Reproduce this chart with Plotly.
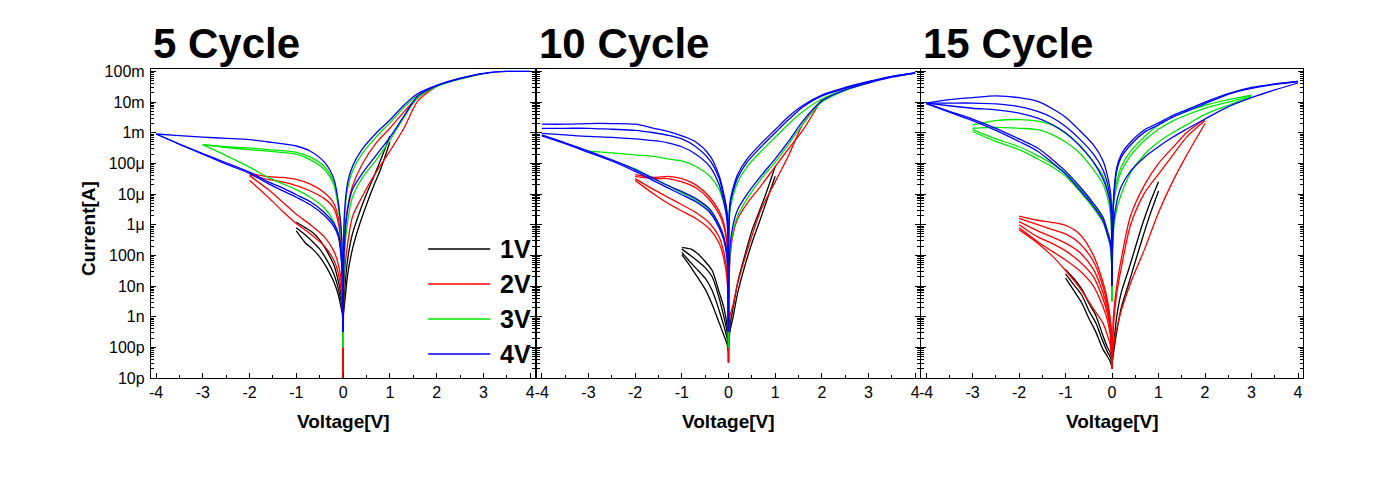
import plotly.graph_objects as go

# ---------------- voltage grids (V) ----------------
VP1 = [0, 0.03, 0.1, 0.2, 0.35, 0.5, 0.65, 0.8, 1.0]
VN1 = [0, -0.03, -0.1, -0.2, -0.35, -0.5, -0.65, -0.8, -1.0]
VP2 = [0, 0.03, 0.1, 0.2, 0.4, 0.7, 1.0, 1.3, 1.6, 2.0]
VN2 = [0, -0.03, -0.1, -0.2, -0.4, -0.7, -1.0, -1.3, -1.6, -2.0]
VP3 = [0, 0.03, 0.1, 0.2, 0.4, 0.7, 1.0, 1.3, 1.6, 2.0, 2.5, 3.0]
VN3 = [0, -0.03, -0.1, -0.2, -0.4, -0.7, -1.0, -1.3, -1.6, -2.0, -2.5, -3.0]
VP4 = [0, 0.03, 0.1, 0.2, 0.4, 0.7, 1.0, 1.3, 1.6, 2.0, 2.5, 3.0, 3.5, 4.0]
VN4 = [0, -0.03, -0.1, -0.2, -0.4, -0.7, -1.0, -1.3, -1.6, -2.0, -2.5, -3.0, -3.5, -4.0]

# ---------------- 5 cycle panel currents (A) ----------------
C5_1V_POS = [
    [1e-9, 6.3e-9, 7.9e-8, 5e-7, 2.5e-6, 1e-5, 3.5e-5, 1.26e-4, 7.9e-4],
    [1e-9, 2.5e-9, 2.5e-8, 1.6e-7, 1e-6, 4.5e-6, 1.8e-5, 6.3e-5, 5e-4],
]
C5_1V_NEG = [
    [1e-9, 4e-9, 1.4e-8, 5e-8, 1.4e-7, 3.2e-7, 5.6e-7, 7.9e-7, 1.2e-6],
    [1e-9, 2.5e-9, 7.9e-9, 2.5e-8, 7.1e-8, 1.6e-7, 2.8e-7, 4.5e-7, 7.9e-7],
    [1e-9, 1.6e-9, 5e-9, 1.4e-8, 4e-8, 8.9e-8, 1.6e-7, 2.5e-7, 6.3e-7],
]
C5_2V_POS = [
    [1e-11, 5e-7, 4e-6, 1.8e-5, 8.9e-5, 4.5e-4, 1.4e-3, 4.8e-3, 1.4e-2, 3.4e-2],
    [1e-11, 2.5e-8, 2.5e-7, 1.8e-6, 7.9e-6, 5e-5, 2.5e-4, 1.4e-3, 1.1e-2, 3.3e-2],
]
C5_2V_NEG = [
    [1e-11, 1.26e-7, 1.6e-6, 5e-6, 1.1e-5, 2.1e-5, 3.0e-5, 3.5e-5, 3.7e-5, 4.8e-5],
    [1e-11, 1e-7, 1.1e-6, 3.5e-6, 7.1e-6, 1.26e-5, 1.9e-5, 2.5e-5, 3.0e-5, 4.2e-5],
    [1e-11, 1e-8, 5e-8, 1.4e-7, 4e-7, 1e-6, 2.2e-6, 5.6e-6, 1.4e-5, 4e-5],
    [1e-11, 5e-9, 2.5e-8, 7.1e-8, 2e-7, 5e-7, 1.1e-6, 2.8e-6, 7.9e-6, 2.8e-5],
]
C5_3V_POS = [
    [1e-10, 1.6e-6, 1.6e-5, 5.6e-5, 2.0e-4, 7.1e-4, 2.1e-3, 6.6e-3, 1.7e-2, 3.4e-2, 5.8e-2, 8.5e-2],
    [1e-10, 1e-7, 1.3e-6, 7.9e-6, 3.2e-5, 1.26e-4, 5.6e-4, 3.2e-3, 1.4e-2, 3.2e-2, 5.6e-2, 8.5e-2],
]
C5_3V_NEG = [
    [1e-10, 3.2e-7, 4.5e-6, 2.5e-5, 7.9e-5, 1.6e-4, 2.3e-4, 2.6e-4, 2.8e-4, 3.2e-4, 3.5e-4, 4.1e-4],
    [1e-10, 2.5e-7, 3.5e-6, 2.0e-5, 6.3e-5, 1.3e-4, 2.0e-4, 2.3e-4, 2.5e-4, 2.8e-4, 3.3e-4, 4.1e-4],
    [1e-10, 5e-8, 4.5e-7, 1.26e-6, 3.5e-6, 7.9e-6, 1.4e-5, 2.2e-5, 3.5e-5, 7.6e-5, 1.8e-4, 4.1e-4],
]
C5_4V_POS = [
    [3.2e-10, 2.5e-6, 2.5e-5, 7.9e-5, 2.8e-4, 9.5e-4, 2.6e-3, 7.9e-3, 1.9e-2, 3.5e-2, 6.0e-2, 8.7e-2, 1e-1, 1e-1],
    [3.2e-10, 2.5e-7, 3.2e-6, 1.4e-5, 4.5e-5, 1.8e-4, 7.1e-4, 3.5e-3, 1.6e-2, 3.4e-2, 5.8e-2, 8.5e-2, 1e-1, 1e-1],
]
C5_4V_NEG = [
    [3.2e-10, 4.0e-7, 5.0e-6, 3.2e-5, 1.1e-4, 2.5e-4, 3.7e-4, 4.4e-4, 5.0e-4, 6.0e-4, 6.6e-4, 7.2e-4, 8.1e-4, 9.1e-4],
    [3.2e-10, 6.3e-8, 5.0e-7, 1.1e-6, 2.5e-6, 5.6e-6, 9.5e-6, 1.6e-5, 2.5e-5, 5.2e-5, 1.05e-4, 2.1e-4, 4.3e-4, 9.1e-4],
    [3.2e-10, 5.0e-8, 4.0e-7, 8.9e-7, 2.0e-6, 4.5e-6, 7.9e-6, 1.3e-5, 2.2e-5, 4.7e-5, 9.5e-5, 2.0e-4, 4.2e-4, 9.1e-4],
]

# ---------------- 10 cycle panel currents (A) ----------------
C10_1V_POS = [
    [1e-10, 5e-10, 2e-9, 1.4e-8, 1e-7, 6.3e-7, 2.5e-6, 1e-5, 7.9e-5],
    [1e-10, 3.2e-10, 1e-9, 6.3e-9, 4.5e-8, 2.5e-7, 1.1e-6, 5e-6, 3.8e-5],
]
C10_1V_NEG = [
    [1e-10, 5e-10, 2e-9, 6.3e-9, 3.2e-8, 6.3e-8, 1.1e-7, 1.6e-7, 1.8e-7],
    [1e-10, 3.2e-10, 1e-9, 4e-9, 2e-8, 4e-8, 6.3e-8, 9.5e-8, 1.6e-7],
    [7.9e-11, 2e-10, 5e-10, 1.6e-9, 7.1e-9, 1.8e-8, 3.2e-8, 5.6e-8, 1.26e-7],
    [6.3e-11, 1.26e-10, 2.5e-10, 6.3e-10, 2.5e-9, 7.9e-9, 1.8e-8, 4e-8, 1.05e-7],
]
C10_2V_POS = [
    [3.2e-11, 6.3e-8, 5e-7, 1.6e-6, 5e-6, 1.9e-5, 7.9e-5, 3.2e-4, 1.26e-3, 1.26e-2],
    [3.2e-11, 1e-9, 2.5e-9, 1.26e-8, 1.4e-7, 3.2e-6, 2.5e-5, 2e-4, 2e-3, 1.1e-2],
]
C10_2V_NEG = [
    [3.2e-11, 2.5e-7, 1.1e-6, 2.8e-6, 7.9e-6, 2e-5, 3.2e-5, 3.8e-5, 3.5e-5, 4.3e-5],
    [3.2e-11, 2e-7, 8.9e-7, 2.2e-6, 6.3e-6, 1.6e-5, 2.5e-5, 3.2e-5, 3.2e-5, 3.8e-5],
    [3.2e-11, 2.5e-8, 1.26e-7, 4e-7, 1.1e-6, 2.5e-6, 4.5e-6, 7.9e-6, 1.4e-5, 3.2e-5],
    [3.2e-11, 1.6e-8, 7.9e-8, 2.5e-7, 7.1e-7, 1.6e-6, 2.8e-6, 5e-6, 1e-5, 2.8e-5],
]
C10_3V_POS = [
    [1e-10, 2.5e-6, 8.9e-6, 2.5e-5, 7.9e-5, 2.5e-4, 7.1e-4, 2e-3, 5e-3, 1.26e-2, 2.5e-2, 4.3e-2],
    [1e-10, 1e-7, 6.3e-7, 2e-6, 7.1e-6, 3.2e-5, 1.1e-4, 4.5e-4, 2e-3, 1e-2, 2.4e-2, 4.2e-2],
]
C10_3V_NEG = [
    [1e-10, 1.6e-6, 5e-6, 1.4e-5, 3.8e-5, 7.9e-5, 1.2e-4, 1.4e-4, 1.7e-4, 1.9e-4, 2.2e-4, 2.5e-4],
    [1e-10, 7.9e-8, 3.2e-7, 8.9e-7, 2.8e-6, 6.3e-6, 1.1e-5, 1.9e-5, 3.2e-5, 6.6e-5, 1.26e-4, 2.5e-4],
]
C10_4V_POS = [
    [3.2e-10, 5e-6, 1.6e-5, 4.5e-5, 1.4e-4, 4.5e-4, 1.26e-3, 3.5e-3, 7.9e-3, 1.7e-2, 3e-2, 4.7e-2, 6.9e-2, 8.9e-2],
    [3.2e-10, 4e-6, 1.26e-5, 3.5e-5, 1.1e-4, 3.5e-4, 1e-3, 2.8e-3, 7.1e-3, 1.6e-2, 2.8e-2, 4.6e-2, 6.8e-2, 8.9e-2],
    [3.2e-10, 1.6e-7, 1e-6, 3.2e-6, 1e-5, 4e-5, 1.4e-4, 5.6e-4, 2.5e-3, 1.1e-2, 2.5e-2, 4.2e-2, 6.5e-2, 8.9e-2],
]
C10_4V_NEG = [
    [3.2e-10, 2.5e-6, 1e-5, 4e-5, 1.8e-4, 5e-4, 7.9e-4, 1.1e-3, 1.4e-3, 1.9e-3, 2e-3, 2e-3, 1.9e-3, 1.9e-3],
    [3.2e-10, 2e-6, 7.9e-6, 3.2e-5, 1.26e-4, 3.5e-4, 6.3e-4, 8.3e-4, 1e-3, 1.2e-3, 1.3e-3, 1.4e-3, 1.4e-3, 1.4e-3],
    [3.2e-10, 1.26e-6, 5.6e-6, 2e-5, 7.9e-5, 2e-4, 3.5e-4, 4.7e-4, 5.5e-4, 6.3e-4, 7.1e-4, 7.6e-4, 8.5e-4, 9.5e-4],
    [3.2e-10, 1e-7, 4e-7, 1e-6, 3.2e-6, 7.1e-6, 1.2e-5, 1.9e-5, 3.2e-5, 6.3e-5, 1.3e-4, 2.5e-4, 4.7e-4, 8.5e-4],
    [3.2e-10, 7.9e-8, 3.2e-7, 7.9e-7, 2.5e-6, 5.6e-6, 9.5e-6, 1.6e-5, 2.7e-5, 5.5e-5, 1.2e-4, 2.3e-4, 4.4e-4, 7.9e-4],
]

# ---------------- 15 cycle panel currents (A) ----------------
C15_1V_POS = [
    [3.2e-11, 1e-10, 1e-9, 6.3e-9, 3.2e-8, 1.8e-7, 1e-6, 4.5e-6, 2.5e-5],
    [3.2e-11, 6.3e-11, 3.2e-10, 2e-9, 1.1e-8, 6.3e-8, 3.5e-7, 1.8e-6, 1.26e-5],
]
C15_1V_NEG = [
    [3.2e-11, 6.3e-11, 1e-10, 2.5e-10, 1.1e-9, 2.8e-9, 7.9e-9, 1.6e-8, 3.4e-8],
    [2.5e-11, 4.5e-11, 7.1e-11, 1.6e-10, 6.3e-10, 1.6e-9, 5e-9, 1e-8, 2.5e-8],
    [2e-11, 3.2e-11, 5e-11, 8.9e-11, 3.2e-10, 8.9e-10, 2.8e-9, 6.3e-9, 1.8e-8],
]
C15_2V_POS = [
    [2e-11, 1e-9, 1e-8, 7.9e-8, 2e-6, 2e-5, 1e-4, 3.2e-4, 1e-3, 2.8e-3],
    [2e-11, 5e-10, 5.6e-9, 4e-8, 1e-6, 1.1e-5, 4.5e-5, 1.8e-4, 7.1e-4, 2.5e-3],
    [2e-11, 1e-10, 4e-10, 1.6e-9, 1.26e-8, 1.6e-7, 2.5e-6, 2.5e-5, 1.8e-4, 2e-3],
]
C15_2V_NEG = [
    [2e-11, 6.3e-10, 3.5e-9, 1.4e-8, 1e-7, 5e-7, 9.5e-7, 1.2e-6, 1.4e-6, 1.9e-6],
    [2e-11, 5e-10, 2.5e-9, 1e-8, 6.3e-8, 2.5e-7, 5e-7, 7.1e-7, 1e-6, 1.6e-6],
    [2e-11, 4e-10, 1.8e-9, 6.3e-9, 3.5e-8, 1.26e-7, 2.5e-7, 4e-7, 6.3e-7, 1.26e-6],
    [2e-11, 3.2e-10, 1.26e-9, 4e-9, 2e-8, 6.3e-8, 1.4e-7, 2.5e-7, 4e-7, 1e-6],
    [2e-11, 2e-10, 7.9e-10, 2.2e-9, 1e-8, 3.2e-8, 7.1e-8, 1.4e-7, 2.8e-7, 7.9e-7],
    [2e-11, 1e-10, 2.5e-10, 6.3e-10, 1.8e-9, 8.9e-9, 3.2e-8, 1e-7, 2.5e-7, 6.9e-7],
]
C15_3V_POS = [
    [3.2e-9, 5e-6, 2.5e-5, 7.9e-5, 2.5e-4, 7.6e-4, 1.8e-3, 3.2e-3, 5e-3, 7.9e-3, 1.2e-2, 1.7e-2],
    [3.2e-9, 4e-6, 1.8e-5, 5.6e-5, 1.8e-4, 5.6e-4, 1.3e-3, 2.4e-3, 3.8e-3, 6.3e-3, 1e-2, 1.6e-2],
    [3.2e-9, 6.3e-7, 3.2e-6, 1e-5, 5e-5, 2e-4, 5e-4, 1e-3, 1.8e-3, 4e-3, 7.9e-3, 1.5e-2],
]
C15_3V_NEG = [
    [3.2e-9, 3.2e-6, 1.4e-5, 4e-5, 1.1e-4, 4e-4, 9.5e-4, 1.8e-3, 2.4e-3, 2.7e-3, 2.5e-3, 1.8e-3],
    [3.2e-9, 2e-6, 7.9e-6, 2.2e-5, 6.3e-5, 2.2e-4, 5e-4, 8.9e-4, 1.26e-3, 1.4e-3, 1.5e-3, 1.4e-3],
    [3.2e-9, 2e-7, 5.6e-7, 1.6e-6, 4.5e-6, 1.6e-5, 4.8e-5, 1e-4, 1.8e-4, 3.5e-4, 6.3e-4, 1.26e-3],
    [3.2e-9, 1.6e-7, 4.5e-7, 1.26e-6, 3.5e-6, 1.26e-5, 3.8e-5, 7.9e-5, 1.4e-4, 2.8e-4, 5.2e-4, 1.1e-3],
]
C15_4V_POS = [
    [1e-8, 6.3e-6, 7.1e-5, 2e-4, 5e-4, 1.26e-3, 2.1e-3, 3.6e-3, 5.6e-3, 1e-2, 1.9e-2, 3e-2, 3.9e-2, 4.7e-2],
    [1e-8, 5e-6, 5.6e-5, 1.6e-4, 4e-4, 1.05e-3, 1.8e-3, 3.2e-3, 5e-3, 8.9e-3, 1.8e-2, 2.8e-2, 3.8e-2, 4.7e-2],
    [1e-8, 1e-6, 5.6e-6, 1.8e-5, 5.6e-5, 1.6e-4, 3.5e-4, 7.1e-4, 1.3e-3, 2.8e-3, 7.1e-3, 1.4e-2, 2.5e-2, 4.2e-2],
]
C15_4V_NEG = [
    [1e-8, 1e-5, 4e-5, 1.26e-4, 4e-4, 1.2e-3, 3.2e-3, 6.3e-3, 1.05e-2, 1.4e-2, 1.6e-2, 1.4e-2, 1.2e-2, 9.3e-3],
    [1e-8, 6.3e-6, 2.2e-5, 6.3e-5, 2e-4, 6.3e-4, 1.6e-3, 3.2e-3, 5e-3, 7.1e-3, 8.7e-3, 9.3e-3, 9.3e-3, 9.3e-3],
    [1e-8, 4e-6, 1.26e-5, 3.2e-5, 1.1e-4, 3.8e-4, 1e-3, 1.9e-3, 3e-3, 4.4e-3, 5.6e-3, 6.3e-3, 7.6e-3, 9.3e-3],
    [1e-8, 2.5e-7, 6.3e-7, 1.8e-6, 5e-6, 1.8e-5, 5.6e-5, 1.4e-4, 3.2e-4, 6.3e-4, 1.4e-3, 2.8e-3, 5e-3, 9.3e-3],
    [1e-8, 2e-7, 5e-7, 1.4e-6, 4e-6, 1.4e-5, 4.5e-5, 1.1e-4, 2.5e-4, 5.2e-4, 1.2e-3, 2.5e-3, 4.7e-3, 8.9e-3],
]

# ---------------- labels / ticks ----------------
PANEL_TITLES = ["5 Cycle", "10 Cycle", "15 Cycle"]
SWEEP_NAMES = ["1V", "2V", "3V", "4V"]
SWEEP_COLORS = ["#000000", "#ff0000", "#00e600", "#0000ff"]
X_TICKS = [-4, -3, -2, -1, 0, 1, 2, 3, 4]
X_TICK_TEXT = ["-4", "-3", "-2", "-1", "0", "1", "2", "3", "4"]
X_MINOR = [-3.5, -2.5, -1.5, -0.5, 0.5, 1.5, 2.5, 3.5]
Y_TICKS = [1e-11, 1e-10, 1e-9, 1e-8, 1e-7, 1e-6, 1e-5, 1e-4, 1e-3, 1e-2, 1e-1]
Y_TICK_TEXT = ["10p", "100p", "1n", "10n", "100n", "1μ", "10μ", "100μ", "1m", "10m", "100m"]
Y_MINOR = [m * d for d in Y_TICKS[:-1] for m in range(2, 10)]

PANELS = [
    [(VP1, VN1, C5_1V_POS, C5_1V_NEG), (VP2, VN2, C5_2V_POS, C5_2V_NEG),
     (VP3, VN3, C5_3V_POS, C5_3V_NEG), (VP4, VN4, C5_4V_POS, C5_4V_NEG)],
    [(VP1, VN1, C10_1V_POS, C10_1V_NEG), (VP2, VN2, C10_2V_POS, C10_2V_NEG),
     (VP3, VN3, C10_3V_POS, C10_3V_NEG), (VP4, VN4, C10_4V_POS, C10_4V_NEG)],
    [(VP1, VN1, C15_1V_POS, C15_1V_NEG), (VP2, VN2, C15_2V_POS, C15_2V_NEG),
     (VP3, VN3, C15_3V_POS, C15_3V_NEG), (VP4, VN4, C15_4V_POS, C15_4V_NEG)],
]

FONT = "Arial, Liberation Sans, sans-serif"
DOMAINS = [[0.0, 0.3335], [0.3349, 0.6677], [0.6685, 1.0]]

fig = go.Figure()
for p, groups in enumerate(PANELS):
    sfx = "" if p == 0 else str(p + 1)
    for k, (vp, vn, pos_lines, neg_lines) in enumerate(groups):
        for cur in pos_lines:
            fig.add_trace(go.Scatter(x=vp, y=cur, mode="lines", showlegend=False,
                                     line=dict(color=SWEEP_COLORS[k], width=1.3, shape="spline", smoothing=0.8),
                                     xaxis="x" + sfx, yaxis="y" + sfx, hoverinfo="skip"))
        for cur in neg_lines:
            fig.add_trace(go.Scatter(x=vn, y=cur, mode="lines", showlegend=False,
                                     line=dict(color=SWEEP_COLORS[k], width=1.3, shape="spline", smoothing=0.8),
                                     xaxis="x" + sfx, yaxis="y" + sfx, hoverinfo="skip"))

# the page body adds an 8 px offset, compensated in the margins
layout = dict(width=1386, height=498, margin=dict(l=143, r=91, t=61, b=128),
              paper_bgcolor="white", plot_bgcolor="white", font=dict(family=FONT, color="black"),
              showlegend=False)

for p in range(3):
    sfx = "" if p == 0 else str(p + 1)
    layout["xaxis" + sfx] = dict(
        domain=DOMAINS[p], anchor="y" + sfx, range=[-4.107, 4.107],
        tickmode="array", tickvals=X_TICKS, ticktext=X_TICK_TEXT,
        ticks="inside", ticklen=5, tickwidth=1.2, tickcolor="black",
        showline=True, linecolor="black", linewidth=1.3, mirror=True,
        showgrid=False, zeroline=False, tickfont=dict(size=16, family=FONT, color="black"),
        minor=dict(tickmode="array", tickvals=X_MINOR, ticks="inside", ticklen=3, tickcolor="black", showgrid=False))
    layout["yaxis" + sfx] = dict(
        domain=[0, 1], anchor="x" + sfx, type="log", range=[-11.0, -0.92],
        tickmode="array", tickvals=Y_TICKS, ticktext=Y_TICK_TEXT,
        ticks="inside", ticklen=5, tickwidth=1.2, tickcolor="black",
        showline=True, linecolor="black", linewidth=1.3, mirror="ticks",
        showgrid=False, zeroline=False, showticklabels=(p == 0), ticklabelstandoff=2,
        tickfont=dict(size=16, family=FONT, color="black"),
        minor=dict(tickmode="array", tickvals=Y_MINOR, ticks="inside", ticklen=3, tickcolor="black", showgrid=False))

fig.update_layout(**layout)

annotations = []
for p in range(3):
    sfx = "" if p == 0 else str(p + 1)
    annotations.append(dict(text="<b>" + PANEL_TITLES[p] + "</b>", xref="x" + sfx + " domain", yref="paper",
                            x=0, y=1.0, xanchor="left", yanchor="bottom", showarrow=False,
                            font=dict(size=42, family=FONT, color="black")))
    annotations.append(dict(text="<b>Voltage[V]</b>", xref="x" + sfx + " domain", yref="paper",
                            x=0.5, y=-0.142, xanchor="center", yanchor="middle", showarrow=False,
                            font=dict(size=19, family=FONT, color="black")))
annotations.append(dict(text="<b>Current[A]</b>", xref="paper", yref="paper", x=-0.0547, y=0.485,
                        xanchor="center", yanchor="middle", textangle=-90, showarrow=False,
                        font=dict(size=19, family=FONT, color="black")))

shapes = []
LEG_Y = [0.4175, 0.304, 0.191, 0.0777]
for k in range(4):
    shapes.append(dict(type="line", xref="x domain", yref="y domain", x0=0.7216, x1=0.883,
                       y0=LEG_Y[k], y1=LEG_Y[k], line=dict(color=SWEEP_COLORS[k], width=1.5)))
    annotations.append(dict(text="<b>" + SWEEP_NAMES[k] + "</b>", xref="x domain", yref="y domain",
                            x=0.903, y=LEG_Y[k], xanchor="left", yanchor="middle", showarrow=False,
                            font=dict(size=25, family=FONT, color="black")))

fig.update_layout(annotations=annotations, shapes=shapes)
fig.write_html("out.html")
